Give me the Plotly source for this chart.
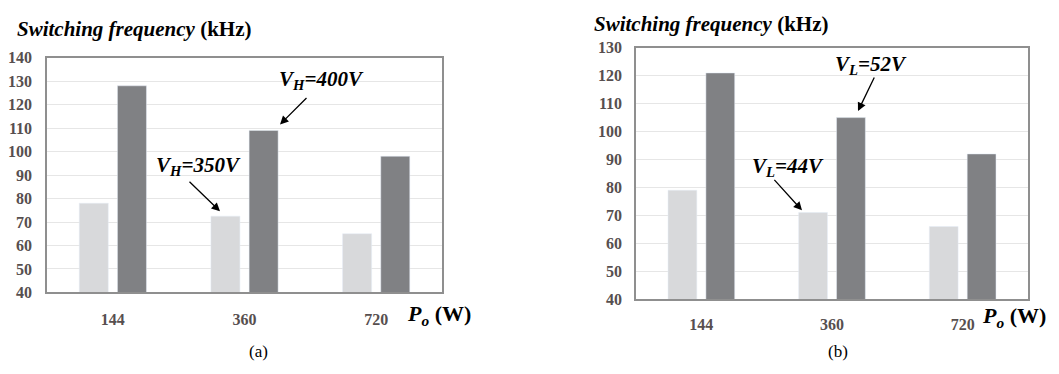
import plotly.graph_objects as go

# Output power categories (W)
power = ["144", "360", "720"]

# (a) high-side voltage sweep: switching frequency in kHz
freq_vh_350 = [78, 72.5, 65]
freq_vh_400 = [128, 109, 98]

# (b) low-side voltage sweep: switching frequency in kHz
freq_vl_44 = [79, 71, 66]
freq_vl_52 = [121, 105, 92]

y_ticks_a = list(range(40, 141, 10))
y_ticks_b = list(range(40, 131, 10))

LIGHT = "#d8d9db"
DARK = "#808184"
SERIF = "Liberation Serif, Times New Roman, serif"
TICK_COLOR = "#574f4f"
FRAME = "#8f8f8f"
GRID = "#e6e6e6"

fig = go.Figure()
fig.add_trace(go.Bar(x=power, y=freq_vh_350, marker_color=LIGHT, xaxis="x", yaxis="y",
                     name="V_H=350V"))
fig.add_trace(go.Bar(x=power, y=freq_vh_400, marker_color=DARK, xaxis="x", yaxis="y",
                     name="V_H=400V"))
fig.add_trace(go.Bar(x=power, y=freq_vl_44, marker_color=LIGHT, xaxis="x2", yaxis="y2",
                     name="V_L=44V"))
fig.add_trace(go.Bar(x=power, y=freq_vl_52, marker_color=DARK, xaxis="x2", yaxis="y2",
                     name="V_L=52V"))

tick_font = dict(family=SERIF, size=16, color=TICK_COLOR, weight="bold")


def bold(values):
    return [f"<b>{v}</b>" for v in values]


def xaxis_style(domain, anchor, standoff):
    return dict(domain=domain, anchor=anchor, type="category",
                tickvals=power, ticktext=bold(power),
                showline=True, linecolor=FRAME, linewidth=1.5, mirror=True,
                showgrid=False, ticks="outside", ticklen=standoff,
                tickcolor="rgba(0,0,0,0)", tickfont=tick_font)


def yaxis_style(domain, anchor, rng, tickvals, standoff):
    return dict(domain=domain, anchor=anchor, range=rng,
                tickvals=tickvals, ticktext=bold(tickvals),
                showline=True, linecolor=FRAME, linewidth=1.5, mirror=True,
                showgrid=True, gridcolor=GRID, gridwidth=1, zeroline=False,
                ticks="outside", ticklen=standoff, tickcolor="rgba(0,0,0,0)",
                tickfont=tick_font)


fig.update_layout(
    width=1059, height=374,
    margin=dict(l=0, r=0, t=0, b=0),
    paper_bgcolor="white", plot_bgcolor="white",
    showlegend=False,
    barmode="group", bargap=0.42, bargroupgap=0.24,
    xaxis=xaxis_style([0.0444, 0.4174], "y", 12),
    yaxis=yaxis_style([0.2032, 0.861], "x", [40, 140], y_ticks_a, 10),
    xaxis2=xaxis_style([0.6006, 0.9707], "y2", 10),
    yaxis2=yaxis_style([0.1845, 0.8885], "x2", [40, 130], y_ticks_b, 9),
)

title_font = dict(family=SERIF, size=21, color="black")
label_font = dict(family=SERIF, size=22, color="black")
note_font = dict(family=SERIF, size=21, color="black")
cap_font = dict(family=SERIF, size=17, color="black")


def px_x(x):
    return x / 1059


def px_y(y):
    return 1 - y / 374


texts = [
    # axis titles
    (15, 22, "<b><i>Switching frequency</i> (kHz)</b>", title_font, "left"),
    (592, 17, "<b><i>Switching frequency</i> (kHz)</b>", title_font, "left"),
    (405, 322, "<b><i>P<sub>o</sub></i> (W)</b>", label_font, "left"),
    (980, 324, "<b><i>P<sub>o</sub></i> (W)</b>", label_font, "left"),
    # panel captions
    (258, 360, "(a)", cap_font, "center"),
    (838, 360, "(b)", cap_font, "center"),
    # series labels
    (321, 75, "<b><i>V<sub>H</sub>=400V</i></b>", note_font, "center"),
    (198, 165, "<b><i>V<sub>H</sub>=350V</i></b>", note_font, "center"),
    (871, 60, "<b><i>V<sub>L</sub>=52V</i></b>", note_font, "center"),
    (788, 167, "<b><i>V<sub>L</sub>=44V</i></b>", note_font, "center"),
]

annotations = []
for x, y, t, f, anchor in texts:
    annotations.append(dict(x=px_x(x), y=px_y(y), xref="paper", yref="paper",
                            text=t, font=f, showarrow=False,
                            xanchor=anchor, yanchor="middle"))

# pointer arrows: tip position and tail offset in pixels
arrows = [
    (280, 122, 28, -28),
    (220, 213, -32, -31),
    (858, 108, 17, -35),
    (802, 212, -29, -32),
]
for x, y, ax, ay in arrows:
    annotations.append(dict(x=px_x(x), y=px_y(y), xref="paper", yref="paper",
                            text="", showarrow=True, ax=ax, ay=ay,
                            arrowhead=2, arrowsize=1.3, arrowwidth=1.3,
                            arrowcolor="black", standoff=0))

fig.update_layout(annotations=annotations)

fig.write_html("out.html")
